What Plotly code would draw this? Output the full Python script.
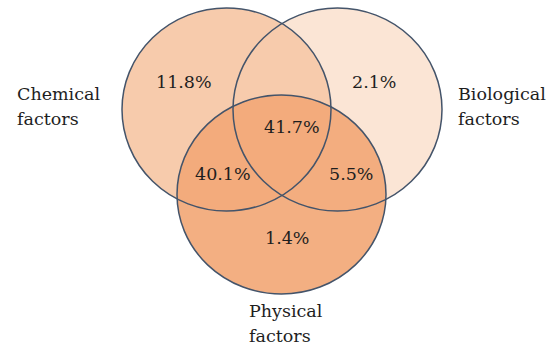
import plotly.graph_objects as go

# ---- data -------------------------------------------------------------
set_names = ["Chemical", "Biological", "Physical"]
set_suffix = "factors"

# share of samples falling in each Venn region (%)
region_keys = ["C", "B", "P", "CP", "BP", "CBP"]
region_values = [11.8, 2.1, 1.4, 40.1, 5.5, 41.7]

# ---- layout (page pixels, y grows downward) ---------------------------
W, H = 547, 349

circle_box = {            # x0, x1, y0, y1
    "Chemical":   (122, 331, 8, 211),
    "Biological": (233, 442, 8, 211),
    "Physical":   (177, 386, 95, 294),
}
circle_fill = {
    "Chemical":   "rgba(247,203,172,1.0)",
    "Biological": "rgba(247,203,172,0.5)",
    "Physical":   "rgba(242,168,119,0.92)",
}
outline = "#44546A"

region_center = {          # visual centre of each region label
    "C":   (184, 82),
    "B":   (374, 82),
    "P":   (287, 238),
    "CP":  (223, 174),
    "BP":  (351, 174),
    "CBP": (292, 127),
}

set_label_pos = {          # left x, baseline of first line
    "Chemical":   (15, 101),
    "Biological": (456, 101),
    "Physical":   (247, 318),
}
line_gap = 25
font_family = "DejaVu Serif"
text_color = "#1e1e1e"

fig = go.Figure()

shapes = []
for name in set_names:
    x0, x1, y0, y1 = circle_box[name]
    shapes.append(dict(type="circle", xref="x", yref="y", x0=x0, x1=x1, y0=y0, y1=y1,
                       fillcolor=circle_fill[name], line=dict(width=0), layer="below"))
for name in set_names:
    x0, x1, y0, y1 = circle_box[name]
    shapes.append(dict(type="circle", xref="x", yref="y", x0=x0, x1=x1, y0=y0, y1=y1,
                       fillcolor="rgba(0,0,0,0)", line=dict(color=outline, width=1.5),
                       layer="above"))

annotations = []
for key, val in zip(region_keys, region_values):
    x, y = region_center[key]
    annotations.append(dict(x=x, y=y, xref="x", yref="y", text=f"{val:.1f}%",
                            showarrow=False, xanchor="center", yanchor="middle",
                            font=dict(family=font_family, size=17.5, color=text_color)))

for name in set_names:
    x, base = set_label_pos[name]
    for i, line in enumerate([name, set_suffix]):
        annotations.append(dict(x=x, y=base + i * line_gap - 7, xref="x", yref="y",
                                text=line, showarrow=False, xanchor="left",
                                yanchor="middle",
                                font=dict(family=font_family, size=17.5, color=text_color)))

# invisible trace so the axes exist
fig.add_trace(go.Scatter(x=[0, W], y=[0, H], mode="markers",
                         marker=dict(opacity=0), hoverinfo="skip", showlegend=False))

fig.update_layout(
    width=W, height=H,
    margin=dict(l=0, r=0, t=0, b=0),
    paper_bgcolor="white", plot_bgcolor="white",
    font=dict(family=font_family),
    shapes=shapes, annotations=annotations,
    xaxis=dict(range=[0, W], visible=False, fixedrange=True),
    yaxis=dict(range=[H, 0], visible=False, fixedrange=True),
)

fig.write_html("out.html", config={"displayModeBar": False})
